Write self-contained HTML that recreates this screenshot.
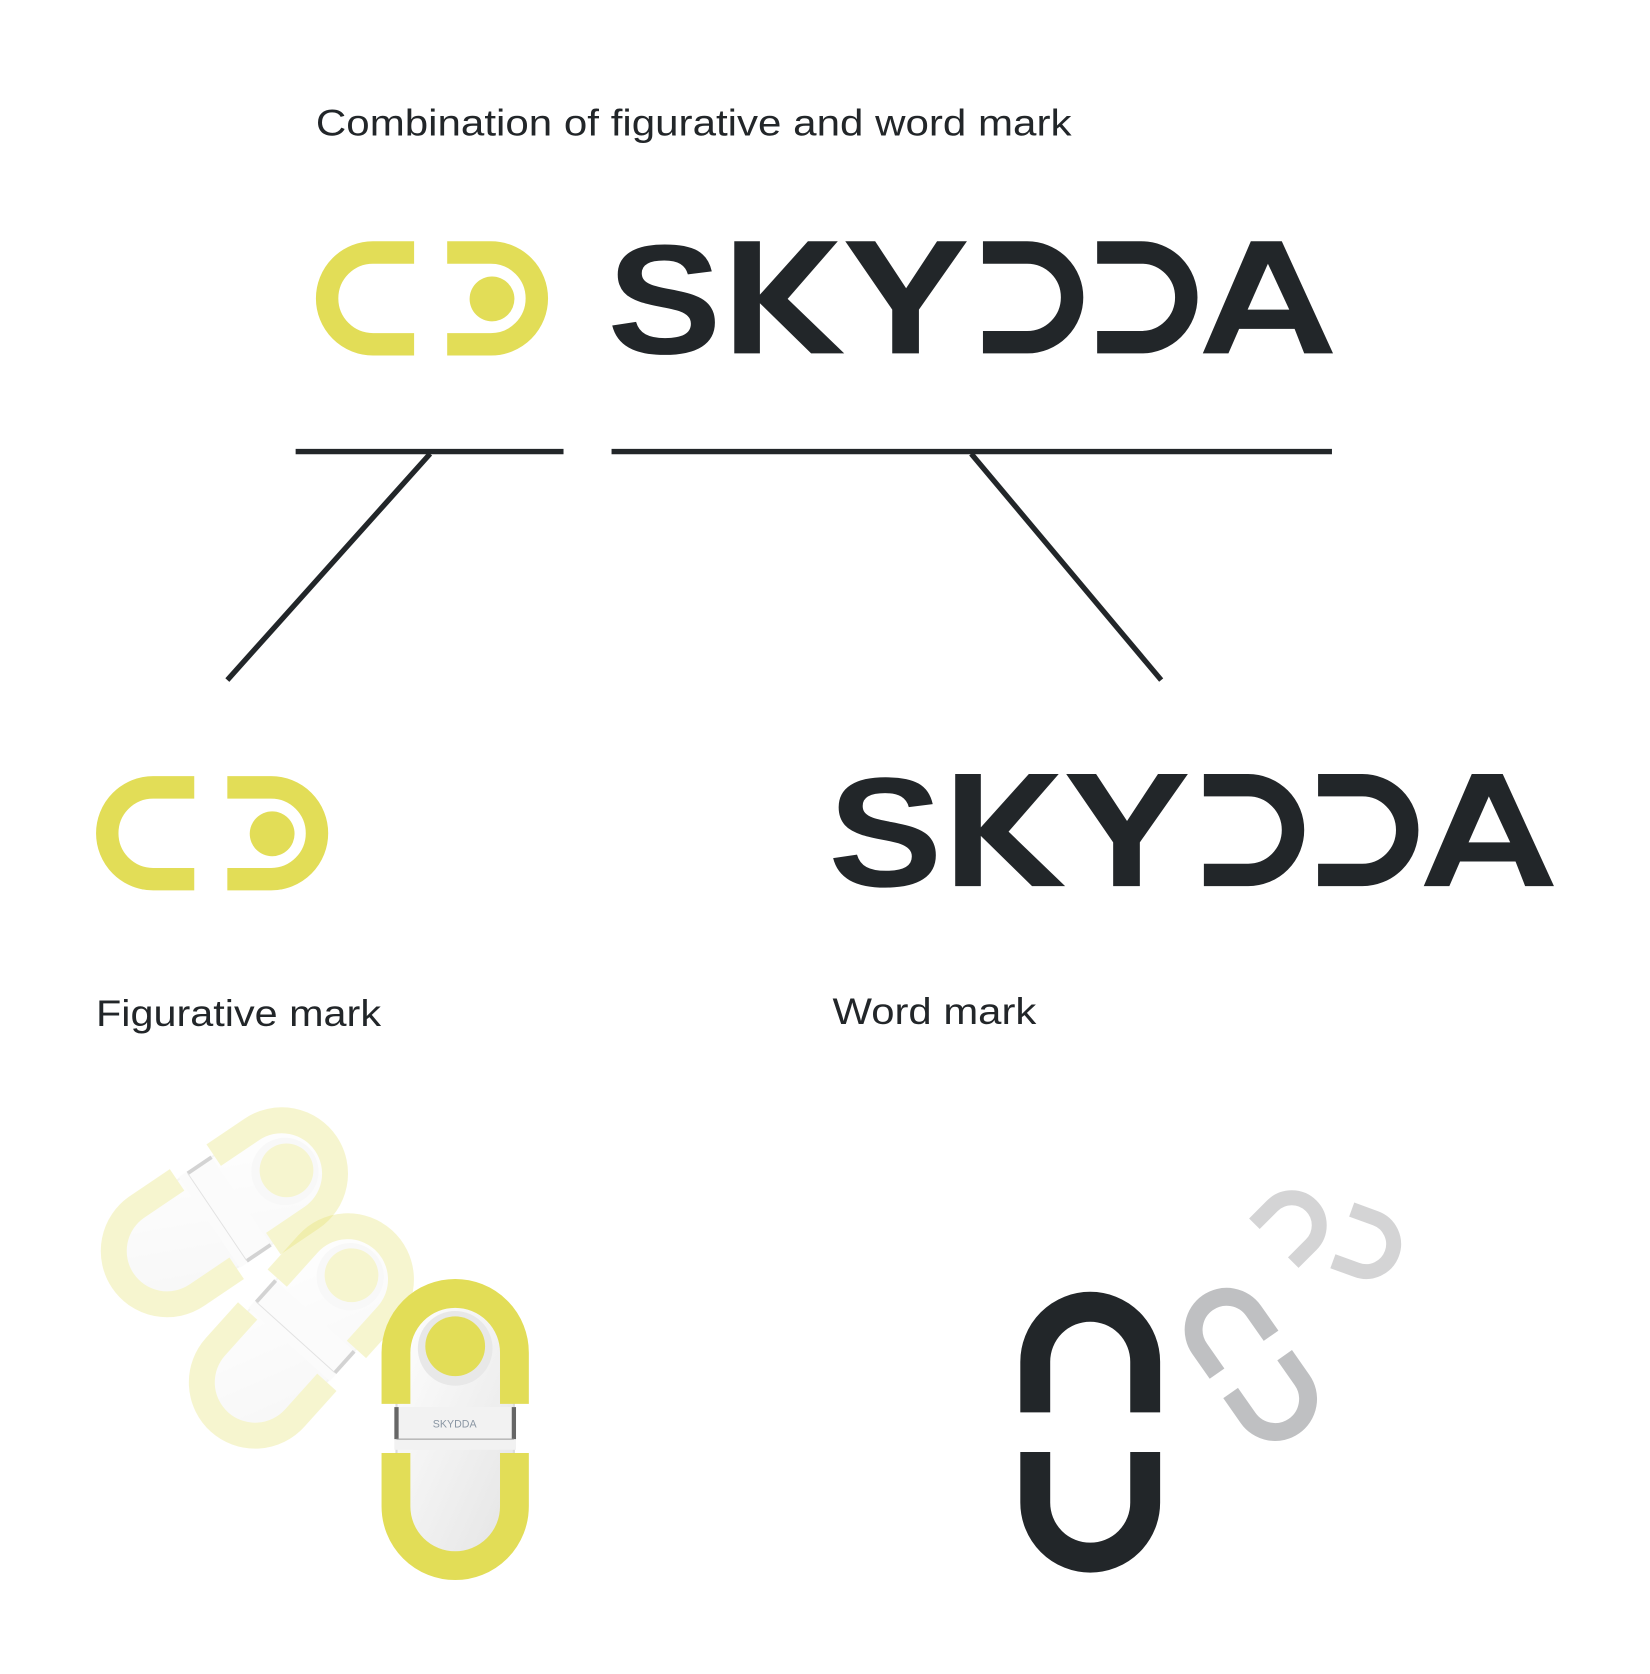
<!DOCTYPE html>
<html><head><meta charset="utf-8"><style>
html,body{margin:0;padding:0;background:#fff}
svg{display:block}
text{font-family:"Liberation Sans",sans-serif;fill:#222629}
</style></head><body>
<svg width="1650" height="1674" viewBox="0 0 1546 1568" preserveAspectRatio="none" xmlns="http://www.w3.org/2000/svg">
<defs>
<linearGradient id="bg" x1="0" y1="0" x2="1" y2="1"><stop offset="0" stop-color="#ffffff"/><stop offset="1" stop-color="#e4e4e4"/></linearGradient>
<g id="icon">
<path d="M388,236.5 H349.5 A43,43 0 0 0 349.5,322.5 H388" fill="none" stroke="#e2dd57" stroke-width="21"/>
<path d="M419,236.5 H460 A43,43 0 0 1 460,322.5 H419" fill="none" stroke="#e2dd57" stroke-width="21"/>
<circle cx="461" cy="280" r="21" fill="#e2dd57"/>
</g>
<g id="word" fill="#222629">
<text x="0" y="0" font-size="146" font-weight="bold" transform="translate(569,331) scale(1.1,1)" style="fill:#222629">S</text>
<polygon points="688,226 712,226 712,276 757,226 785,226 738,280 791,331 760,331 712,284 712,331 688,331"/>
<polygon points="792,226 820,226 849,270 878,226 906,226 861,290 861,331 836,331 836,290"/>
<path d="M921,236.5 H962.5 A42,42 0 0 1 962.5,320.5 H921" fill="none" stroke="#222629" stroke-width="21"/>
<path d="M1028,236.5 H1069.5 A42,42 0 0 1 1069.5,320.5 H1028" fill="none" stroke="#222629" stroke-width="21"/>
<polygon points="1127,331 1172,226 1201,226 1249,331 1222,331 1213,308 1161,308 1151,331"/>
<polygon points="1169,290 1208,290 1188,247" fill="#fff"/>
</g>
<path id="top" d="M-51.5,-18.5 V-66 A51.5,51.5 0 0 1 51.5,-66 V-18.5" fill="none" stroke-width="28"/>
<g id="pill" fill="none" stroke-width="28">
<path d="M-51.5,-18.5 V-66 A51.5,51.5 0 0 1 51.5,-66 V-18.5"/>
<path d="M-51.5,18.5 V66 A51.5,51.5 0 0 0 51.5,66 V18.5"/>
</g>
<g id="dev">
<rect x="-55" y="-122" width="110" height="244" rx="55" fill="url(#bg)" stroke="#dcdcdc" stroke-width="2"/>
<rect x="-57" y="-20" width="114" height="40" fill="#f2f2f2"/>
<line x1="-55" y1="-20" x2="-55" y2="10" stroke="#666" stroke-width="4"/>
<line x1="55" y1="-20" x2="55" y2="10" stroke="#666" stroke-width="4"/>
<line x1="-55" y1="10" x2="55" y2="10" stroke="#999" stroke-width="1"/>
<circle cx="0" cy="-75" r="35" fill="#e8e8e8"/>
<circle cx="0" cy="-77" r="28" fill="#e2dd57"/>
<path d="M-55.5,-23 V-71 A55.5,55.5 0 0 1 55.5,-71 V-23" fill="none" stroke="#e2dd57" stroke-width="27"/>
<path d="M-55.5,23 V73 A55.5,55.5 0 0 0 55.5,73 V23" fill="none" stroke="#e2dd57" stroke-width="27"/>
</g>
</defs>

<text x="296" y="127" font-size="35" textLength="708" lengthAdjust="spacingAndGlyphs">Combination of figurative and word mark</text>
<use href="#icon"/>
<use href="#word"/>

<g stroke="#222629" stroke-width="5" fill="none">
<line x1="277" y1="423" x2="528" y2="423"/>
<line x1="573" y1="423" x2="1248" y2="423"/>
<line x1="403" y1="425" x2="213" y2="637"/>
<line x1="910" y1="425" x2="1088" y2="637"/>
</g>

<use href="#icon" transform="translate(-206,501)"/>
<use href="#word" transform="translate(207,499)"/>

<text x="90" y="961" font-size="35" textLength="267" lengthAdjust="spacingAndGlyphs">Figurative mark</text>
<text x="780" y="959" font-size="35" textLength="191" lengthAdjust="spacingAndGlyphs">Word mark</text>

<g opacity="0.28"><use href="#dev" transform="translate(211,1135) rotate(56) scale(0.9)"/></g>
<g opacity="0.28"><use href="#dev" transform="translate(283,1246) rotate(42) scale(0.9)"/></g>
<use href="#dev" transform="translate(426.5,1338)"/>
<text x="426" y="1337" font-size="10" text-anchor="middle" style="fill:#8a96a3">SKYDDA</text>

<use href="#pill" stroke="#222629" transform="translate(1021.5,1341.5)"/>
<use href="#pill" stroke="#bfc0c2" transform="translate(1172,1278) rotate(-35) scale(0.6)"/>
<use href="#top" stroke="#d4d4d5" transform="translate(1187,1171) rotate(45) scale(0.5)"/>
<use href="#top" stroke="#d4d4d5" transform="translate(1249,1154) rotate(110) scale(0.5)"/>
</svg>
</body></html>
